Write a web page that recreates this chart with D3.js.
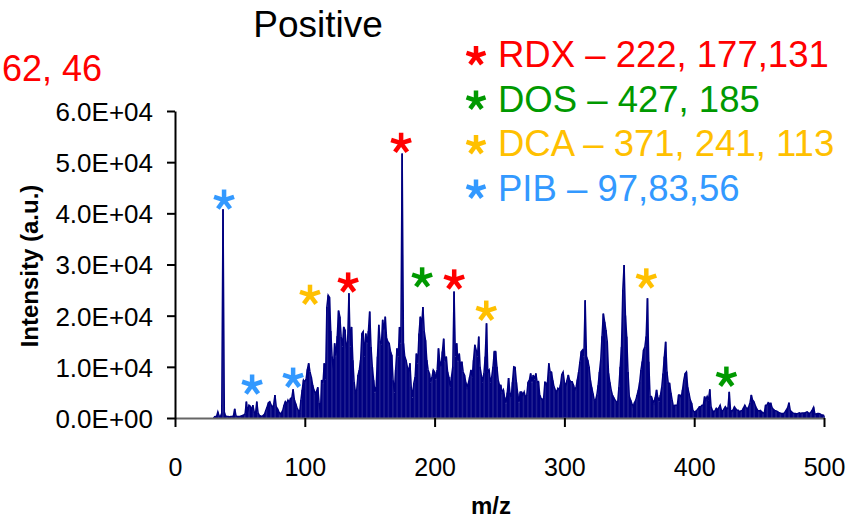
<!DOCTYPE html>
<html><head><meta charset="utf-8">
<script src="https://cdn.jsdelivr.net/npm/d3@7"></script>
<style>body{margin:0;background:#fff}svg{display:block;font-family:"Liberation Sans",Arial,sans-serif}</style>
</head><body><svg id="c" width="857" height="518"></svg>
<script>
// Spectrum: intensity (thousands of counts) at each m/z from mzStart, 1 Da apart
const mzStart = 30;
const intensityK = [
 0.2,0.3,0.3,1.2,0.4,0.3,0.9,40.8,1.1,0.4,
 0.3,0.3,0.2,0.3,0.3,0.4,1.8,0.4,0.3,0.3,
 0.3,0.4,0.5,0.6,0.8,3.2,1.0,2.5,2.3,1.5,
 2.5,1.2,0.8,3.2,1.0,0.5,0.4,0.3,0.5,0.8,
 1.5,2.2,3.0,3.2,2.6,2.0,2.6,4.5,2.2,1.8,
 1.2,0.8,1.0,1.5,2.5,3.2,2.8,3.5,3.0,3.8,
 4.0,5.6,3.5,2.8,2.0,1.5,1.0,3.5,5.5,7.4,
 7.0,7.6,9.5,10.7,9.0,8.0,6.5,5.5,4.8,5.2,
 6.0,3.0,1.0,7.4,6.8,10.7,7.5,21.7,24.0,23.6,
 17.0,12.0,9.4,14.6,12.0,16.0,21.0,19.8,15.9,14.0,
 17.8,17.2,13.3,15.0,24.4,14.0,17.8,11.3,7.0,5.0,
 5.5,8.4,9.4,11.3,16.5,16.9,12.0,16.5,14.6,17.0,
 20.8,13.9,10.0,7.4,5.0,6.1,12.0,18.2,15.0,14.3,
 19.2,17.0,19.8,15.6,14.9,14.6,13.0,12.3,7.4,5.0,
 9.4,13.6,12.0,17.8,14.6,51.7,14.6,12.0,11.3,10.0,
 9.0,10.7,6.1,4.0,6.8,8.0,12.6,10.7,16.5,19.8,
 18.0,21.7,17.0,15.2,11.3,9.4,8.7,7.0,8.0,9.4,
 9.0,7.5,9.4,13.6,11.0,10.0,13.0,15.5,11.0,12.0,
 9.0,8.0,6.0,8.0,10.0,24.7,12.0,14.6,11.0,12.6,
 10.0,11.0,9.0,8.4,7.0,6.0,6.8,8.0,9.4,8.0,
 11.3,14.3,13.3,12.0,15.9,10.0,8.4,7.0,8.7,12.0,
 18.5,9.0,9.4,7.0,8.0,10.0,13.0,13.0,10.0,7.4,
 6.4,6.4,5.0,5.5,4.0,2.9,5.0,7.8,5.0,3.9,
 7.0,10.0,9.9,7.0,4.8,3.0,5.1,5.1,4.5,5.1,
 4.0,4.5,7.0,7.4,8.7,7.0,8.4,7.5,8.7,7.0,
 7.1,4.5,3.9,3.5,3.9,7.1,6.5,7.1,10.7,9.0,
 9.0,7.4,6.1,5.5,5.0,5.8,5.5,6.5,8.5,9.0,
 7.0,6.1,7.4,8.4,7.4,7.1,7.1,6.4,5.5,6.0,
 7.5,9.0,11.0,13.0,13.3,12.0,23.0,12.0,11.3,10.0,
 7.4,6.0,4.8,3.5,3.5,4.5,6.4,9.0,11.3,16.0,
 20.4,18.8,17.2,15.0,8.7,7.0,5.5,4.5,4.0,3.5,
 3.2,2.9,6.0,10.0,13.9,25.0,29.9,20.0,15.9,9.0,
 4.2,3.5,2.8,2.2,3.0,3.5,4.5,5.5,7.0,9.4,
 11.0,13.3,13.9,16.0,23.4,11.0,4.2,4.2,3.5,2.9,
 4.0,5.5,4.0,3.2,4.5,6.0,8.7,12.0,14.9,9.0,
 6.8,6.8,5.0,3.5,2.2,2.5,2.5,2.5,4.5,4.5,
 4.0,5.5,7.4,8.7,9.0,6.0,4.8,3.5,2.9,1.5,
 1.2,1.3,1.5,1.8,2.2,2.2,2.5,2.5,4.2,3.5,
 4.2,3.5,5.6,2.2,1.5,1.2,1.4,1.9,1.6,2.0,
 2.5,1.5,1.4,1.8,2.2,1.8,2.0,5.1,1.5,1.3,
 1.6,2.2,1.8,1.5,1.5,1.2,1.4,1.5,2.0,2.5,
 2.0,1.8,2.2,3.0,4.5,3.5,3.2,2.5,1.9,1.5,
 1.4,1.5,1.2,1.0,1.0,2.5,2.5,3.0,2.8,2.9,
 2.0,1.7,1.5,1.4,1.3,1.1,1.0,0.9,0.9,0.9,
 1.2,1.6,2.0,3.0,1.5,1.2,1.0,0.9,0.9,0.8,
 0.9,1.0,0.9,1.0,1.0,1.0,1.1,1.2,1.0,0.9,
 1.2,1.6,2.1,0.8,0.8,0.9,0.9,0.8,0.6,0.6,0.5
];
const xTicks = [0, 100, 200, 300, 400, 500];
const yTicks = [0, 10000, 20000, 30000, 40000, 50000, 60000];
const yTickLabels = ["0.0E+00","1.0E+04","2.0E+04","3.0E+04","4.0E+04","5.0E+04","6.0E+04"];
const compounds = ["RDX", "DOS", "DCA", "PIB"];
const compoundColors = ["#FF0000", "#009900", "#FFC000", "#3399FF"];
const legendLabels = ["RDX \u2013 222, 177,131", "DOS \u2013 427, 185", "DCA \u2013 371, 241, 113", "PIB \u2013 97,83,56"];
// peak markers (asterisks): m/z, intensity level (counts), compound index
const starMz = [37.8, 59.4, 91, 104, 133.4, 174.2, 190.4, 215.1, 239.8, 363.1, 424.8];
const starLevel = [42600, 6450, 7800, 24000, 26400, 53700, 27400, 27000, 20900, 27200, 8000];
const starCompound = [3, 3, 3, 2, 0, 0, 1, 0, 2, 2, 1];
const titleText = "Positive";
const clippedNote = "62, 46";

const svg = d3.select("#c");
const x = d3.scaleLinear().domain([0, 500]).range([175, 824]);
const y = d3.scaleLinear().domain([0, 60000]).range([418, 111]);
const spec = intensityK.map((v, i) => ({mz: mzStart + i, v: v * 1000}));
const navy = "#000080";

// spectrum sticks + outline
svg.append("g").selectAll("line").data(spec).join("line")
  .attr("x1", d => x(d.mz)).attr("x2", d => x(d.mz))
  .attr("y1", y(0)).attr("y2", d => y(d.v))
  .attr("stroke", navy).attr("stroke-width", 1.6);
svg.append("path").datum(spec)
  .attr("d", d3.line().x(d => x(d.mz)).y(d => y(d.v)))
  .attr("fill", "none").attr("stroke", navy).attr("stroke-width", 1.5).attr("stroke-linejoin", "miter");

// axes
const gx = svg.append("g").attr("transform", `translate(0,${y(0)})`)
  .call(d3.axisBottom(x).tickValues(xTicks).tickSize(9).tickSizeOuter(0).tickFormat(d3.format("d")));
gx.select(".domain").attr("stroke", "#666").attr("stroke-width", 2);
gx.selectAll(".tick line").attr("stroke", "#000").attr("stroke-width", 2);
gx.selectAll(".tick text").attr("y", 58).attr("dy", null).attr("font-size", 25).attr("fill", "#000")
  .attr("font-family", '"Liberation Sans",Arial,sans-serif');

const gy = svg.append("g").attr("transform", `translate(${x(0)},0)`)
  .call(d3.axisLeft(y).tickValues(yTicks).tickSize(8).tickPadding(14).tickSizeOuter(0)
    .tickFormat((d, i) => yTickLabels[i]));
gy.select(".domain").attr("stroke", "#000").attr("stroke-width", 2);
gy.selectAll(".tick line").attr("stroke", "#000").attr("stroke-width", 2);
gy.selectAll(".tick text").attr("font-size", 26).attr("fill", "#000").attr("dy", "0.36em")
  .attr("font-family", '"Liberation Sans",Arial,sans-serif');

// axis titles
svg.append("text").attr("x", 491).attr("y", 514).attr("text-anchor", "middle")
  .attr("font-size", 24).attr("font-weight", "bold").text("m/z");
svg.append("text").attr("transform", "translate(38,266) rotate(-90)").attr("text-anchor", "middle")
  .attr("font-size", 24).attr("font-weight", "bold").text("Intensity (a.u.)");

// title and note at the left edge
svg.append("text").attr("x", 318).attr("y", 37).attr("text-anchor", "middle")
  .attr("font-size", 37).attr("fill", "#000").text(titleText);
svg.append("text").attr("x", 2).attr("y", 81).attr("text-anchor", "start")
  .attr("font-size", 36).attr("fill", "#FF0000").text(clippedNote);

// asterisk shape (5 arms)
function asterisk(g, cx, cy, color, r) {
  const angles = [90, 18, 162, -54, -126];
  angles.forEach(a => {
    const rad = a * Math.PI / 180;
    g.append("line").attr("x1", cx).attr("y1", cy)
      .attr("x2", cx + r * Math.cos(rad)).attr("y2", cy - r * Math.sin(rad))
      .attr("stroke", color).attr("stroke-width", 4.5).attr("stroke-linecap", "butt");
  });
}
const gs = svg.append("g");
starMz.forEach((m, i) => asterisk(gs, x(m), y(starLevel[i]), compoundColors[starCompound[i]], 10.5));

// legend
const lg = svg.append("g");
legendLabels.forEach((t, i) => {
  const by = 67 + i * 44.5;
  asterisk(lg, 476, by - 11, compoundColors[i], 10);
  lg.append("text").attr("x", 498).attr("y", by).attr("font-size", 36.5)
    .attr("fill", compoundColors[i]).text(t);
});
</script></body></html>
